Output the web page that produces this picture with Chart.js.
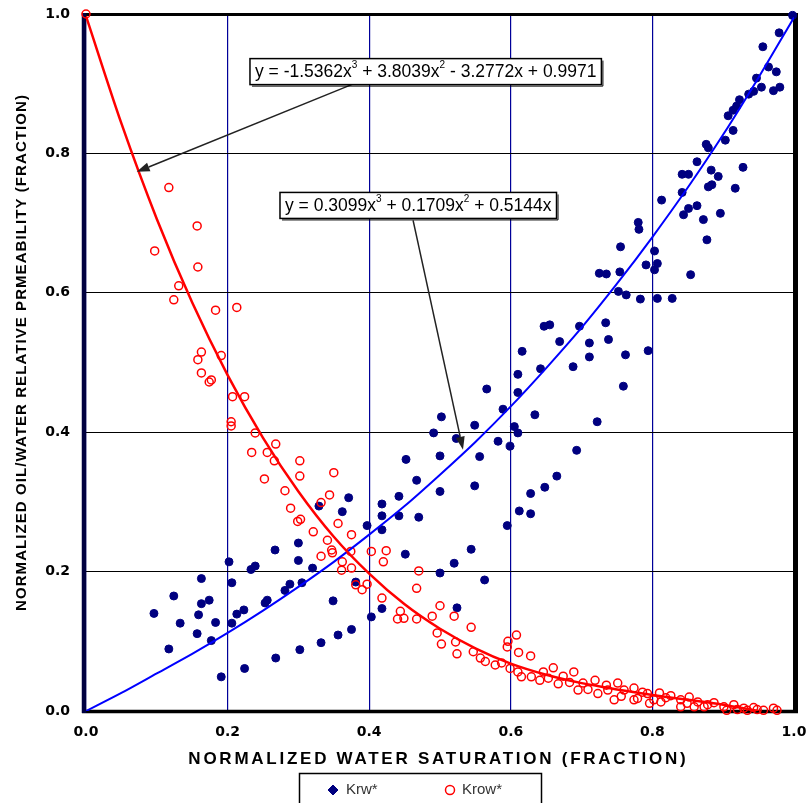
<!DOCTYPE html>
<html>
<head>
<meta charset="utf-8">
<title>Normalized relative permeability</title>
<script src="https://cdn.jsdelivr.net/npm/chart.js@4.4.1/dist/chart.umd.min.js"></script>
<style>
  body { margin: 0; background: #fff; }
  #wrap { width: 806px; height: 803px; }
</style>
</head>
<body>
<div id="wrap"><canvas id="relPerm"></canvas></div>
<script>
// Krw* measured points (normalized Sw, Krw)
const krwSw = [0.096, 0.124, 0.117, 0.133, 0.163, 0.159, 0.157, 0.174, 0.163, 0.177, 0.183, 0.191, 0.202, 0.206, 0.206, 0.213, 0.223, 0.224, 0.233, 0.239,
  0.253, 0.256, 0.267, 0.268, 0.281, 0.288, 0.300, 0.300, 0.302, 0.305, 0.320, 0.332, 0.329, 0.349, 0.356, 0.362, 0.371, 0.375, 0.381, 0.397,
  0.403, 0.418, 0.418, 0.418, 0.418, 0.442, 0.442, 0.451, 0.467, 0.470, 0.500, 0.500, 0.520, 0.524, 0.544, 0.549, 0.563, 0.595, 0.612, 0.628,
  0.628, 0.648, 0.725, 0.735, 0.754, 0.763, 0.752, 0.655, 0.647, 0.697, 0.734, 0.669, 0.711, 0.738, 0.616, 0.711, 0.762, 0.688, 0.642, 0.610,
  0.759, 0.566, 0.610, 0.589, 0.634, 0.502, 0.549, 0.605, 0.610, 0.722, 0.491, 0.523, 0.582, 0.599, 0.693, 0.452, 0.500, 0.556, 0.665, 0.998,
  0.979, 0.956, 0.964, 0.975, 0.947, 0.954, 0.943, 0.936, 0.980, 0.971, 0.923, 0.919, 0.914, 0.907, 0.914, 0.903, 0.876, 0.879, 0.863, 0.883,
  0.928, 0.842, 0.851, 0.893, 0.884, 0.879, 0.917, 0.842, 0.813, 0.863, 0.851, 0.844, 0.896, 0.872, 0.780, 0.781, 0.877, 0.755, 0.803, 0.791,
  0.807, 0.803, 0.854, 0.783, 0.807, 0.828, 0.794];
const krwKr = [0.140, 0.165, 0.089, 0.126, 0.190, 0.138, 0.111, 0.159, 0.154, 0.101, 0.127, 0.049, 0.214, 0.184, 0.126, 0.139, 0.145, 0.061, 0.203, 0.208,
  0.155, 0.159, 0.231, 0.076, 0.173, 0.182, 0.241, 0.216, 0.088, 0.184, 0.205, 0.098, 0.294, 0.158, 0.109, 0.286, 0.306, 0.117, 0.185, 0.266,
  0.135, 0.297, 0.280, 0.260, 0.147, 0.308, 0.280, 0.225, 0.331, 0.278, 0.315, 0.198, 0.212, 0.148, 0.232, 0.323, 0.188, 0.266, 0.287, 0.312,
  0.283, 0.321, 0.628, 0.627, 0.630, 0.597, 0.602, 0.554, 0.552, 0.552, 0.557, 0.530, 0.528, 0.533, 0.516, 0.508, 0.511, 0.494, 0.491, 0.483,
  0.466, 0.462, 0.457, 0.433, 0.425, 0.422, 0.410, 0.408, 0.399, 0.415, 0.399, 0.391, 0.387, 0.380, 0.374, 0.361, 0.366, 0.365, 0.337, 0.998,
  0.973, 0.953, 0.924, 0.917, 0.908, 0.895, 0.889, 0.885, 0.895, 0.890, 0.877, 0.868, 0.862, 0.854, 0.833, 0.819, 0.813, 0.808, 0.788, 0.776,
  0.780, 0.770, 0.770, 0.767, 0.755, 0.752, 0.750, 0.744, 0.733, 0.725, 0.721, 0.712, 0.714, 0.705, 0.701, 0.691, 0.676, 0.666, 0.660, 0.640,
  0.642, 0.633, 0.626, 0.591, 0.592, 0.592, 0.517];

// Krow* measured points (normalized Sw, Krow)
const krowSw = [0.000, 0.117, 0.157, 0.097, 0.158, 0.131, 0.124, 0.183, 0.213, 0.163, 0.191, 0.158, 0.163, 0.177, 0.174, 0.207, 0.224, 0.205, 0.205, 0.239,
  0.268, 0.234, 0.256, 0.266, 0.302, 0.302, 0.252, 0.350, 0.281, 0.344, 0.332, 0.289, 0.303, 0.299, 0.356, 0.321, 0.375, 0.341, 0.347, 0.348,
  0.332, 0.362, 0.361, 0.375, 0.403, 0.424, 0.420, 0.374, 0.381, 0.397, 0.390, 0.418, 0.470, 0.467, 0.444, 0.449, 0.440, 0.467, 0.500, 0.489,
  0.520, 0.544, 0.496, 0.502, 0.522, 0.524, 0.547, 0.557, 0.564, 0.578, 0.587, 0.596, 0.608, 0.595, 0.611, 0.628, 0.599, 0.610, 0.615, 0.629,
  0.641, 0.653, 0.660, 0.667, 0.689, 0.683, 0.695, 0.709, 0.719, 0.723, 0.735, 0.751, 0.760, 0.774, 0.779, 0.793, 0.810, 0.802, 0.826, 0.840,
  0.849, 0.864, 0.873, 0.887, 0.901, 0.915, 0.929, 0.943, 0.957, 0.971, 0.976, 0.746, 0.756, 0.774, 0.796, 0.840, 0.859, 0.878, 0.905, 0.920,
  0.934, 0.948, 0.812, 0.646, 0.674, 0.702, 0.737, 0.786, 0.819, 0.852];
const krowKr = [1.000, 0.751, 0.696, 0.660, 0.637, 0.610, 0.590, 0.575, 0.579, 0.515, 0.510, 0.504, 0.485, 0.475, 0.472, 0.451, 0.451, 0.415, 0.409, 0.399,
  0.383, 0.371, 0.371, 0.359, 0.359, 0.337, 0.333, 0.342, 0.316, 0.310, 0.299, 0.291, 0.275, 0.272, 0.269, 0.257, 0.253, 0.245, 0.231, 0.227,
  0.222, 0.214, 0.202, 0.205, 0.229, 0.230, 0.214, 0.229, 0.181, 0.182, 0.174, 0.162, 0.201, 0.176, 0.143, 0.133, 0.132, 0.132, 0.151, 0.136,
  0.136, 0.120, 0.112, 0.096, 0.099, 0.082, 0.085, 0.076, 0.071, 0.066, 0.069, 0.100, 0.109, 0.092, 0.084, 0.079, 0.061, 0.056, 0.049, 0.049,
  0.044, 0.047, 0.062, 0.039, 0.056, 0.041, 0.030, 0.031, 0.044, 0.025, 0.037, 0.040, 0.030, 0.033, 0.018, 0.025, 0.026, 0.016, 0.022, 0.016,
  0.011, 0.013, 0.006, 0.012, 0.006, 0.009, 0.004, 0.005, 0.001, 0.004, 0.001, 0.016, 0.021, 0.016, 0.011, 0.006, 0.006, 0.009, 0.001, 0.002,
  0.001, 0.002, 0.013, 0.056, 0.050, 0.040, 0.030, 0.027, 0.019, 0.020];

// trendlines
const krwFitSw = [0, 0.05, 0.10, 0.15, 0.20, 0.25, 0.30, 0.35, 0.40, 0.45, 0.50, 0.55, 0.60, 0.65, 0.70, 0.75, 0.80, 0.85, 0.90, 0.95, 1.00];
const krwFitKr = [0, 0.026, 0.054, 0.082, 0.112, 0.144, 0.178, 0.214, 0.253, 0.294, 0.339, 0.386, 0.437, 0.492, 0.550, 0.613, 0.680, 0.751, 0.827, 0.909, 0.995];
const krowFitSw = [0, 0.05, 0.10, 0.15, 0.20, 0.25, 0.30, 0.35, 0.40, 0.45, 0.50, 0.55, 0.60, 0.65, 0.70, 0.75, 0.80, 0.85, 0.90, 0.95];
const krowFitKr = [0.997, 0.843, 0.706, 0.586, 0.482, 0.392, 0.315, 0.250, 0.197, 0.153, 0.118, 0.090, 0.068, 0.052, 0.040, 0.031, 0.023, 0.016, 0.009, 0.000];

const xTickLabels = ['0.0', '0.2', '0.4', '0.6', '0.8', '1.0'];
const yTickLabels = ['0.0', '0.2', '0.4', '0.6', '0.8', '1.0'];
const seriesNames = ['Krw*', 'Krow*'];
const xTitle = 'NORMALIZED WATER SATURATION (FRACTION)';
const yTitle = 'NORMALIZED OIL/WATER RELATIVE PRMEABILITY (FRACTION)';
const krowEquation = [['y = -1.5362x', false], ['3', true], [' + 3.8039x', false], ['2', true], [' - 3.2772x + 0.9971', false]];
const krwEquation = [['y = 0.3099x', false], ['3', true], [' + 0.1709x', false], ['2', true], [' + 0.5144x', false]];

const toPoints = (xs, ys) => xs.map((x, i) => ({ x: x, y: ys[i] }));

// where the equation labels sit (in axis units)
const labels = [
  { parts: krowEquation, left: 0.2316, top: 0.936, from: [0.376, 0.899], to: [0.0716, 0.7735] },
  { parts: krwEquation, left: 0.274, top: 0.744, from: [0.462, 0.704], to: [0.5325, 0.375] }
];

const eqFont = '17.5px "Liberation Sans"';
const supFont = '10px "Liberation Sans"';

function spacedText(ctx, text, x, y, target) {
  ctx.letterSpacing = '0px';
  const w = ctx.measureText(text).width;
  const sp = (target - w) / text.length;
  ctx.letterSpacing = sp + 'px';
  ctx.fillText(text, x + sp / 2, y);
  ctx.letterSpacing = '0px';
}

function arrow(ctx, x1, y1, x2, y2) {
  const ang = Math.atan2(y2 - y1, x2 - x1);
  const len = 13, half = 4.5;
  const bx = x2 - len * Math.cos(ang), by = y2 - len * Math.sin(ang);
  ctx.beginPath();
  ctx.moveTo(x1, y1);
  ctx.lineTo(bx, by);
  ctx.stroke();
  ctx.beginPath();
  ctx.moveTo(x2, y2);
  ctx.lineTo(bx + half * Math.sin(ang), by - half * Math.cos(ang));
  ctx.lineTo(bx - half * Math.sin(ang), by + half * Math.cos(ang));
  ctx.closePath();
  ctx.fill();
}

const decor = {
  id: 'decor',
  beforeDatasetsDraw(chart) {
    const { ctx, chartArea: a } = chart;
    ctx.save();
    ctx.strokeStyle = '#000';
    ctx.lineWidth = 3;
    ctx.beginPath(); ctx.moveTo(a.left - 4, a.top + 0.5); ctx.lineTo(a.right + 4, a.top + 0.5); ctx.stroke();
    ctx.lineWidth = 3.5;
    ctx.beginPath(); ctx.moveTo(a.left - 4, a.bottom + 0.5); ctx.lineTo(a.right + 4, a.bottom + 0.5); ctx.stroke();
    ctx.lineWidth = 5;
    ctx.beginPath(); ctx.moveTo(a.right + 1.5, a.top - 1); ctx.lineTo(a.right + 1.5, a.bottom + 2); ctx.stroke();
    ctx.strokeStyle = '#000040';
    ctx.lineWidth = 4.5;
    ctx.beginPath(); ctx.moveTo(a.left - 2, a.top - 1); ctx.lineTo(a.left - 2, a.bottom + 2); ctx.stroke();
    ctx.restore();
  },
  afterDatasetsDraw(chart) {
    const { ctx, scales: { x, y } } = chart;
    ctx.save();
    labels.forEach(l => {
      ctx.strokeStyle = '#222';
      ctx.fillStyle = '#222';
      ctx.lineWidth = 1.5;
      arrow(ctx, x.getPixelForValue(l.from[0]), y.getPixelForValue(l.from[1]),
        x.getPixelForValue(l.to[0]), y.getPixelForValue(l.to[1]));

      let w = 0;
      l.parts.forEach(([t, sup]) => {
        ctx.font = sup ? supFont : eqFont;
        w += ctx.measureText(t).width;
      });
      const bx = x.getPixelForValue(l.left), by = y.getPixelForValue(l.top);
      const bw = w + 10, bh = 26;
      ctx.fillStyle = '#fff';
      ctx.fillRect(bx, by, bw, bh);
      ctx.strokeStyle = '#000';
      ctx.lineWidth = 1.5;
      ctx.strokeRect(bx, by, bw, bh);
      // slight drop shadow on the right and bottom edges
      ctx.lineWidth = 1;
      ctx.beginPath();
      ctx.moveTo(bx + bw + 1.5, by + 2);
      ctx.lineTo(bx + bw + 1.5, by + bh + 1.5);
      ctx.lineTo(bx + 2, by + bh + 1.5);
      ctx.stroke();
      ctx.fillStyle = '#000';
      ctx.textBaseline = 'middle';
      ctx.textAlign = 'left';
      let tx = bx + 5;
      const ty = by + bh / 2 + 1;
      l.parts.forEach(([t, sup]) => {
        ctx.font = sup ? supFont : eqFont;
        ctx.fillText(t, tx, sup ? ty - 7 : ty);
        tx += ctx.measureText(t).width;
      });
    });
    ctx.restore();
  },
  afterDraw(chart) {
    const { ctx } = chart;
    ctx.save();
    ctx.fillStyle = '#000';
    ctx.textAlign = 'center';
    ctx.textBaseline = 'middle';
    ctx.font = 'bold 17px "Liberation Sans"';
    spacedText(ctx, xTitle, 437, 759, 500);
    ctx.translate(22, 353);
    ctx.rotate(-Math.PI / 2);
    ctx.font = 'bold 15px "Liberation Sans"';
    spacedText(ctx, yTitle, 0, 0, 517);
    ctx.restore();

    // legend
    ctx.save();
    ctx.strokeStyle = '#000';
    ctx.lineWidth = 1.5;
    ctx.strokeRect(299.5, 773.5, 242, 40);
    const krw = chart.data.datasets[3], krow = chart.data.datasets[2];
    ctx.fillStyle = krw.backgroundColor;
    ctx.strokeStyle = krw.borderColor;
    ctx.lineWidth = 1;
    Chart.helpers.drawPoint(ctx, { pointStyle: 'rectRot', radius: 5, rotation: 0, borderWidth: 1 }, 333, 790);
    ctx.fillStyle = 'rgba(0,0,0,0)';
    ctx.strokeStyle = krow.borderColor;
    ctx.lineWidth = 1.5;
    Chart.helpers.drawPoint(ctx, { pointStyle: 'circle', radius: 4.5, rotation: 0, borderWidth: 1.5 }, 450, 790);
    ctx.fillStyle = '#333';
    ctx.font = '15px "Liberation Sans"';
    ctx.textBaseline = 'middle';
    ctx.textAlign = 'left';
    ctx.fillText(krw.label, 346, 790);
    ctx.fillText(krow.label, 462, 790);
    ctx.restore();
  }
};

const tickFont = { family: 'DejaVu Sans', size: 14, weight: 'bold' };

new Chart(document.getElementById('relPerm'), {
  type: 'scatter',
  data: {
    datasets: [
      {
        label: 'Krow* fit',
        data: toPoints(krowFitSw, krowFitKr),
        showLine: true,
        borderColor: '#ff0000',
        borderWidth: 2.5,
        pointRadius: 0,
        tension: 0.3
      },
      {
        label: 'Krw* fit',
        data: toPoints(krwFitSw, krwFitKr),
        showLine: true,
        borderColor: '#0000ff',
        borderWidth: 2,
        pointRadius: 0,
        tension: 0.3
      },
      {
        label: seriesNames[1],
        data: toPoints(krowSw, krowKr),
        pointStyle: 'circle',
        pointRadius: 4,
        borderColor: '#ff0000',
        backgroundColor: 'rgba(255,255,255,0)',
        borderWidth: 1.5,
        clip: false
      },
      {
        label: seriesNames[0],
        data: toPoints(krwSw, krwKr),
        pointStyle: 'circle',
        pointRadius: 4,
        borderColor: '#000080',
        backgroundColor: '#000080',
        borderWidth: 1,
        clip: false
      }
    ]
  },
  options: {
    responsive: true,
    maintainAspectRatio: false,
    animation: false,
    layout: { padding: { left: 0, top: 14, right: 12, bottom: 35 } },
    plugins: {
      legend: { display: false },
      tooltip: { enabled: false }
    },
    scales: {
      x: {
        type: 'linear',
        min: 0,
        max: 1,
        ticks: {
          stepSize: 0.2,
          padding: 13,
          color: '#000',
          font: tickFont,
          maxRotation: 0,
          callback: (v, i) => xTickLabels[i]
        },
        grid: { color: '#000099', lineWidth: 1.2, drawTicks: false },
        border: { display: false },
        afterFit(s) { s.height = 57; s.paddingLeft = 0; s.paddingRight = 0; }
      },
      y: {
        type: 'linear',
        min: 0,
        max: 1,
        ticks: {
          stepSize: 0.2,
          padding: 16,
          color: '#000',
          font: tickFont,
          callback: (v, i) => yTickLabels[i]
        },
        grid: { color: '#000', lineWidth: 1, drawTicks: false },
        border: { display: false },
        afterFit(s) { s.width = 86; s.paddingTop = 0; s.paddingBottom = 0; }
      }
    }
  },
  plugins: [decor]
});
</script>
</body>
</html>
